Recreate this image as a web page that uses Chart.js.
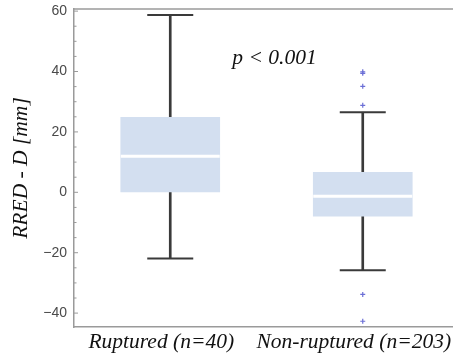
<!DOCTYPE html>
<html lang="en">
<head>
    <meta charset="UTF-8">
    <title>RRED - D boxplot</title>
    <script src="https://cdn.jsdelivr.net/npm/chart.js"></script>
    <style>
        body { margin: 0; background: #fff; overflow: hidden; }
        #wrap { width: 462px; height: 355px; }
    </style>
</head>
<body>
    <div id="wrap"><canvas id="boxChart" width="462" height="355"></canvas></div>
    <script>
        // dados
        const categories = ['Ruptured (n=40)', 'Non-ruptured (n=203)'];
        const whiskerLow = [-21.9, -25.8];
        const q1 = [0, -7.9];
        const median = [11.9, -1.3];
        const q3 = [24.8, 6.6];
        const whiskerHigh = [58.7, 26.5];
        const outliersNonRuptured = [39.9, 39.4, 35.1, 28.8, -33.8, -42.7];
        const yTicks = [-40, -20, 0, 20, 40, 60];

        const serif = "'Liberation Serif', 'Times New Roman', serif";

        // ticks internos + linha de cima (moldura)
        const framePlugin = {
            id: 'frame',
            afterDraw(chart) {
                const ctx = chart.ctx;
                const area = chart.chartArea;
                const y = chart.scales.y;
                ctx.save();
                ctx.strokeStyle = '#9a9a9a';
                ctx.lineWidth = 1.5;
                ctx.beginPath();
                ctx.moveTo(area.left, area.top);
                ctx.lineTo(area.right, area.top);
                ctx.stroke();
                ctx.lineWidth = 1;
                y.ticks.forEach(t => {
                    const py = y.getPixelForValue(t.value);
                    const len = yTicks.includes(t.value) ? 4 : 2.5;
                    ctx.beginPath();
                    ctx.moveTo(area.left, py);
                    ctx.lineTo(area.left + len, py);
                    ctx.stroke();
                });
                // texto do p-valor
                const x = chart.scales.x;
                ctx.fillStyle = '#111';
                ctx.font = 'italic 21.5px ' + serif;
                ctx.textAlign = 'center';
                ctx.textBaseline = 'middle';
                ctx.fillText('p < 0.001', x.getPixelForValue(0.5) + 8, y.getPixelForValue(44.5));
                ctx.restore();
            }
        };

        function semPadding(scale) {
            scale.paddingLeft = 0;
            scale.paddingRight = 0;
            scale.paddingTop = 0;
            scale.paddingBottom = 0;
        }

        const outlierPoints = outliersNonRuptured.map(v => ({ x: categories[1], y: v }));

        const data = {
            labels: categories,
            datasets: [
                {
                    type: 'line',
                    label: 'Mediana',
                    data: median,
                    showLine: false,
                    pointStyle: 'line',
                    pointRadius: 49.5,
                    borderColor: '#ffffff',
                    borderWidth: 3,
                    order: 1
                },
                {
                    type: 'line',
                    label: 'Limite superior',
                    data: whiskerHigh,
                    showLine: false,
                    pointStyle: 'line',
                    pointRadius: 23,
                    borderColor: '#3a3a3a',
                    borderWidth: 2,
                    order: 2
                },
                {
                    type: 'line',
                    label: 'Limite inferior',
                    data: whiskerLow,
                    showLine: false,
                    pointStyle: 'line',
                    pointRadius: 23,
                    borderColor: '#3a3a3a',
                    borderWidth: 2,
                    order: 2
                },
                {
                    type: 'line',
                    label: 'Outliers',
                    data: outlierPoints,
                    showLine: false,
                    pointStyle: 'cross',
                    pointRadius: 2.5,
                    borderColor: '#6b6fd6',
                    borderWidth: 1.2,
                    order: 2
                },
                {
                    type: 'bar',
                    label: 'Caixa',
                    data: q1.map((v, i) => [v, q3[i]]),
                    backgroundColor: '#d3dff0',
                    barThickness: 99,
                    grouped: false,
                    order: 3
                },
                {
                    type: 'bar',
                    label: 'Bigode',
                    data: whiskerLow.map((v, i) => [v, whiskerHigh[i]]),
                    backgroundColor: '#3a3a3a',
                    barThickness: 2,
                    grouped: false,
                    order: 4
                }
            ]
        };

        const config = {
            data: data,
            options: {
                responsive: false,
                animation: false,
                devicePixelRatio: 1,
                layout: { autoPadding: false, padding: { top: 9, right: 3, left: 0, bottom: 0 } },
                plugins: {
                    legend: { display: false },
                    tooltip: { enabled: false }
                },
                scales: {
                    x: {
                        type: 'category',
                        offset: true,
                        grid: { display: false, drawTicks: false },
                        border: { display: true, color: '#9a9a9a', width: 1.5 },
                        ticks: {
                            padding: 2,
                            labelOffset: -9,
                            maxRotation: 0,
                            minRotation: 0,
                            autoSkip: false,
                            color: '#111',
                            font: { family: serif, size: 21.5, style: 'italic' }
                        },
                        afterFit(scale) { scale.height = 28; semPadding(scale); }
                    },
                    y: {
                        min: -44.6,
                        max: 60.7,
                        grid: { drawOnChartArea: false, drawTicks: false },
                        border: { display: true, color: '#9a9a9a', width: 1.5 },
                        ticks: {
                            stepSize: 5,
                            includeBounds: false,
                            autoSkip: false,
                            padding: 7,
                            color: '#4a4a4a',
                            font: { family: "'Liberation Sans', Arial, sans-serif", size: 14 },
                            callback: function (value) {
                                if (!yTicks.includes(value)) return '';
                                return value < 0 ? '\u2212' + Math.abs(value) : String(value);
                            }
                        },
                        title: {
                            display: true,
                            text: 'RRED - D [mm]',
                            color: '#111',
                            padding: { top: 8, bottom: 0 },
                            font: { family: serif, size: 21.5, style: 'italic' }
                        },
                        afterFit(scale) { scale.width = 74; semPadding(scale); }
                    }
                }
            },
            plugins: [framePlugin]
        };

        new Chart(document.getElementById('boxChart'), config);
    </script>
</body>
</html>
